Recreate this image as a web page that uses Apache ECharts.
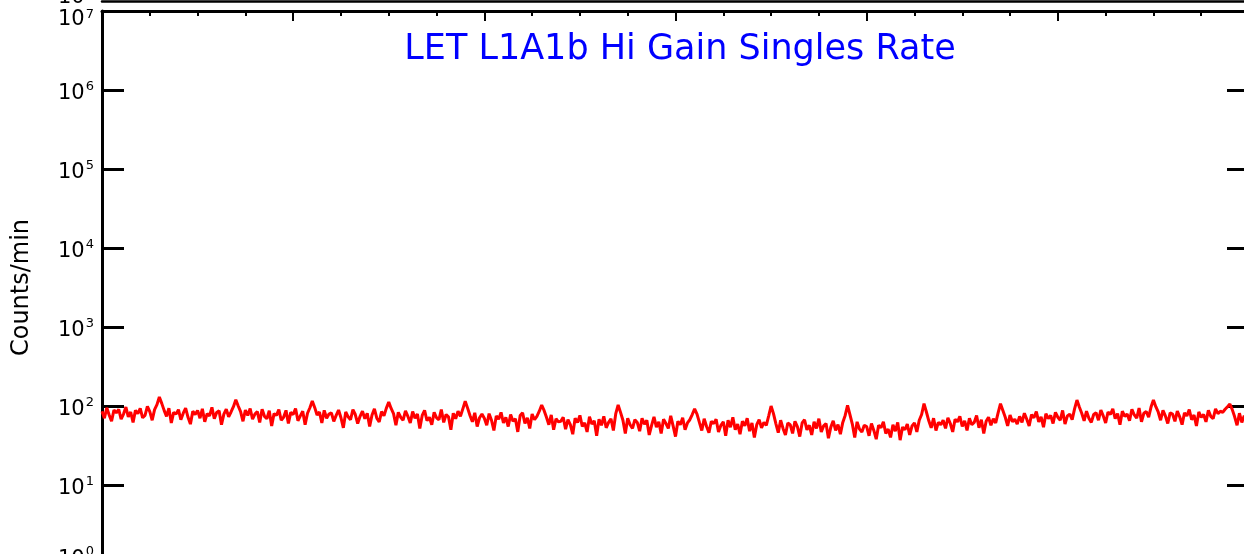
<!DOCTYPE html>
<html>
<head>
<meta charset="utf-8">
<script src="https://cdn.jsdelivr.net/npm/echarts@6/dist/echarts.min.js"></script>
<style>
html,body{margin:0;padding:0;background:#fff;}
#chart{width:1244px;height:554px;}
</style>
</head>
<body>
<div id="chart"></div>
<script>
// Title / axis texts
const TITLE = 'LET L1A1b Hi Gain Singles Rate';
const Y_NAME = 'Counts/min';
// time axis (hours), one sample every STEP hours
const X_MIN = 0, X_MAX = 24, X_INTERVAL = 4;
const STEP = 0.05;
// Y axis (log) range
const Y_MIN = 1, Y_MAX = 1e7;
// Singles rate, counts/min
const counts = [
  86, 70, 95, 77, 64, 89, 82, 91, 68, 79, 97, 73, 84, 62, 88, 80, 93, 71, 76, 99, 85, 66, 90, 104, 130, 108, 88, 74, 94, 61, 83, 79,
  90, 67, 81, 94, 72, 59, 86, 78, 88, 70, 92, 63, 80, 75, 96, 69, 83, 87, 58, 79, 91, 73, 84, 98, 120, 100, 85, 64, 89, 76, 93, 68,
  79, 85, 62, 91, 74, 69, 87, 56, 80, 76, 90, 66, 72, 88, 60, 83, 78, 93, 65, 75, 86, 58, 81, 95, 116, 96, 77, 84, 61, 88, 70, 79,
  82, 64, 76, 89, 71, 53, 84, 73, 67, 90, 78, 60, 74, 86, 69, 81, 55, 77, 92, 70, 63, 85, 75, 94, 112, 93, 80, 57, 83, 72, 66, 87,
  74, 61, 85, 70, 79, 52, 76, 88, 65, 72, 58, 83, 71, 67, 90, 62, 78, 73, 50, 81, 69, 86, 74, 92, 115, 94, 76, 63, 82, 55, 71, 79,
  70, 57, 80, 66, 49, 75, 68, 83, 61, 72, 55, 78, 64, 69, 47, 76, 82, 60, 71, 52, 79, 67, 74, 86, 103, 88, 72, 58, 77, 50, 69, 63,
  64, 72, 51, 67, 58, 44, 70, 62, 76, 55, 61, 47, 73, 59, 65, 42, 68, 57, 74, 53, 62, 69, 49, 80, 103, 83, 66, 45, 70, 58, 52, 67,
  62, 48, 70, 59, 66, 43, 57, 73, 54, 63, 45, 68, 60, 52, 75, 56, 41, 64, 58, 71, 50, 61, 67, 78, 92, 79, 62, 49, 69, 55, 46, 64,
  60, 68, 47, 57, 63, 42, 66, 54, 72, 50, 59, 44, 64, 56, 70, 48, 61, 40, 58, 67, 53, 62, 57, 75, 100, 80, 60, 46, 66, 52, 43, 61,
  58, 45, 64, 55, 41, 61, 67, 50, 57, 43, 63, 52, 69, 47, 56, 60, 39, 54, 65, 49, 58, 44, 62, 76, 102, 78, 59, 40, 63, 51, 47, 57,
  55, 42, 60, 49, 38, 57, 53, 63, 45, 51, 40, 58, 48, 62, 37, 54, 50, 59, 43, 56, 61, 47, 66, 78, 107, 84, 65, 53, 70, 49, 62, 58,
  66, 52, 71, 60, 47, 68, 63, 74, 55, 65, 49, 70, 58, 62, 76, 53, 67, 45, 64, 72, 57, 69, 61, 82, 107, 88, 72, 56, 77, 63, 68, 59,
  74, 62, 81, 68, 56, 78, 71, 85, 63, 73, 54, 80, 69, 76, 60, 83, 72, 66, 88, 59, 75, 79, 67, 92, 119, 97, 81, 65, 86, 70, 62, 78,
  82, 66, 89, 75, 61, 84, 78, 92, 69, 80, 58, 86, 74, 79, 65, 91, 77, 70, 94, 63, 81, 85, 72, 97, 119, 98, 84, 66, 88, 75, 60, 82,
  79, 64, 86, 73, 58, 82, 75, 90, 67, 77, 56, 84, 72, 78, 63, 88, 74, 69, 92, 80, 86, 83, 91, 98, 106, 90, 73, 57, 81, 62, 75, 68,
  64
];

const FONT = 'DejaVu Sans';
const data = counts.map((c, i) => [+(i * STEP).toFixed(2), c]);

function expLabel(v) {
  const e = Math.round(Math.log10(v));
  if (e === 7) return '{bt|10}{st|' + e + '}';
  if (e === 0) return '{bb|10}{sb|' + e + '}';
  return '{b|10}{s|' + e + '}';
}
const richMain = {
  b: {fontSize: 21, fontFamily: FONT, color: '#000', padding: [8, 0, 0, 0]},
  s: {fontSize: 13, fontFamily: FONT, color: '#000', padding: [4, 0, 10, 1]},
  bt: {fontSize: 21, fontFamily: FONT, color: '#000', padding: [17, 0, 0, 0]},
  st: {fontSize: 13, fontFamily: FONT, color: '#000', padding: [18, 0, 10, 1]},
  bb: {fontSize: 21, fontFamily: FONT, color: '#000', padding: [0, 0, 8, 0]},
  sb: {fontSize: 13, fontFamily: FONT, color: '#000', padding: [0, 0, 24, 1]}
};
const richUpper = {
  b: {fontSize: 21, fontFamily: FONT, color: '#000', padding: [0, 0, 8, 0]},
  s: {fontSize: 13, fontFamily: FONT, color: '#000', padding: [0, 0, 20, 1]}
};

const axisLineStyle = {color: '#000', width: 3};

const chart = echarts.init(document.getElementById('chart'), null, {renderer: 'canvas'});
chart.setOption({
  animation: false,
  backgroundColor: '#fff',
  title: {
    text: TITLE,
    left: 675, top: 27, textAlign: 'center',
    textStyle: {color: '#0000ff', fontFamily: FONT, fontWeight: 'normal', fontSize: 35}
  },
  grid: [
    {left: 102, top: 11, width: 1147, height: 553, containLabel: false, outerBoundsMode: 'none'},
    {left: 102, top: -300, width: 1147, height: 301.5, containLabel: false, outerBoundsMode: 'none'}
  ],
  xAxis: [
    {
      type: 'value', gridIndex: 0, position: 'bottom', min: X_MIN, max: X_MAX, interval: X_INTERVAL,
      axisLine: {show: true, onZero: false, lineStyle: axisLineStyle},
      axisTick: {show: true, inside: true, length: 10, lineStyle: {color: '#000', width: 2}},
      minorTick: {show: true, splitNumber: 4, length: 5, lineStyle: {color: '#000', width: 2}},
      axisLabel: {show: false}, splitLine: {show: false}
    },
    {
      type: 'value', gridIndex: 0, position: 'top', min: X_MIN, max: X_MAX, interval: X_INTERVAL,
      axisLine: {show: true, onZero: false, lineStyle: axisLineStyle},
      axisTick: {show: true, inside: true, length: 10, lineStyle: {color: '#000', width: 2}},
      minorTick: {show: true, splitNumber: 4, length: 5, lineStyle: {color: '#000', width: 2}},
      axisLabel: {show: false}, splitLine: {show: false}
    },
    {
      type: 'value', gridIndex: 1, position: 'bottom', min: X_MIN, max: X_MAX, interval: X_INTERVAL,
      axisLine: {show: true, onZero: false, lineStyle: {color: '#000', width: 2.5}},
      axisTick: {show: false}, axisLabel: {show: false}, splitLine: {show: false}
    }
  ],
  yAxis: [
    {
      type: 'log', logBase: 10, gridIndex: 0, position: 'left', min: Y_MIN, max: Y_MAX,
      name: Y_NAME, nameLocation: 'middle', nameGap: 68, nameRotate: 90,
      nameTextStyle: {fontFamily: FONT, fontSize: 24, color: '#000'},
      axisLine: {show: true, onZero: false, lineStyle: axisLineStyle},
      axisTick: {show: true, inside: true, length: 22, lineStyle: {color: '#000', width: 3}},
      minorTick: {show: false},
      axisLabel: {show: true, margin: 8, formatter: expLabel, rich: richMain},
      splitLine: {show: false}
    },
    {
      type: 'log', logBase: 10, gridIndex: 0, position: 'right', min: Y_MIN, max: Y_MAX,
      axisLine: {show: true, onZero: false, lineStyle: axisLineStyle},
      axisTick: {show: true, inside: true, length: 22, lineStyle: {color: '#000', width: 3}},
      axisLabel: {show: false}, splitLine: {show: false}
    },
    {
      type: 'log', logBase: 10, gridIndex: 1, position: 'left', min: Y_MIN, max: Y_MAX,
      axisLine: {show: false, onZero: false}, axisTick: {show: false},
      axisLabel: {show: true, margin: 8, formatter: function (v) {
        const e = Math.round(Math.log10(v));
        return '{b|10}{s|' + e + '}';
      }, rich: richUpper},
      splitLine: {show: false}
    }
  ],
  series: [{
    type: 'line', xAxisIndex: 0, yAxisIndex: 0,
    data: data, showSymbol: false, symbol: 'none',
    lineStyle: {color: '#ff0000', width: 3},
    itemStyle: {color: '#ff0000'},
    sampling: null
  }]
});
</script>
</body>
</html>
